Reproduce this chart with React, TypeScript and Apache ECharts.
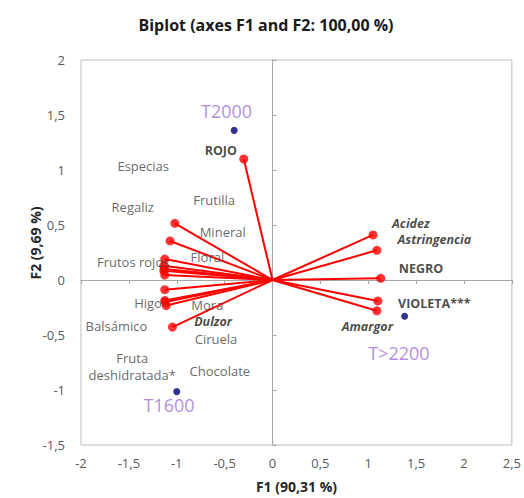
import React, { useEffect, useRef } from 'react';
import * as echarts from 'echarts';

// Variable vectors (F1, F2)
const vectorF1 = [-0.30, -1.02, -1.07, -1.125, -1.135, -1.13, -1.135, -1.125, -1.125, -1.12, -1.125, -1.11, -1.045, 1.05, 1.09, 1.13, 1.10, 1.09];
const vectorF2 = [1.10, 0.515, 0.355, 0.19, 0.13, 0.10, 0.085, 0.045, -0.088, -0.20, -0.187, -0.232, -0.428, 0.41, 0.27, 0.015, -0.19, -0.28];

// Observations
const obsNames = ['T2000', 'T1600', 'T>2200'];
const obsF1 = [-0.40, -1.00, 1.38];
const obsF2 = [1.36, -1.015, -0.33];

// Text labels (positions in axis units)
const labelTexts = ['T2000', 'ROJO', 'Especias', 'Regaliz', 'Frutilla', 'Mineral', 'Floral', 'Frutos rojos', 'Higo', 'Mora', 'Dulzor', 'Balsámico', 'Ciruela', 'Fruta\ndeshidratada*', 'Chocolate', 'T1600', 'Acidez', 'Astringencia', 'NEGRO', 'VIOLETA***', 'Amargor', 'T>2200'];
const labelF1 = [-0.48, -0.54, -1.35, -1.46, -0.61, -0.52, -0.68, -1.455, -1.30, -0.68, -0.62, -1.63, -0.59, -1.465, -0.55, -1.08, 1.445, 1.69, 1.55, 1.69, 0.99, 1.32];
const labelF2 = [1.54, 1.175, 1.04, 0.666, 0.726, 0.437, 0.205, 0.16, -0.21, -0.225, -0.375, -0.42, -0.54, -0.79, -0.825, -1.14, 0.51, 0.365, 0.105, -0.21, -0.42, -0.66];

const boldLabels = ['ROJO', 'NEGRO', 'VIOLETA***'];
const boldItalicLabels = ['Acidez', 'Astringencia', 'Dulzor', 'Amargor'];

const FONT = '"Open Sans", "Noto Sans", sans-serif';
const fmt = (v: number) => String(v).replace('.', ',');

function labelStyle(name: string) {
  if (obsNames.includes(name)) {
    return { color: '#a16fd2', fontSize: 18, fontWeight: 'normal', fontStyle: 'normal' };
  }
  if (boldLabels.includes(name)) {
    return { color: '#1a1a1a', fontSize: 12.5, fontWeight: 'bold', fontStyle: 'normal' };
  }
  if (boldItalicLabels.includes(name)) {
    return { color: '#1a1a1a', fontSize: 12.5, fontWeight: 'bold', fontStyle: 'italic' };
  }
  return { color: '#404040', fontSize: 13, fontWeight: 'normal', fontStyle: 'normal' };
}

export default function App() {
  const ref = useRef<HTMLDivElement>(null);
  useEffect(() => {
    if (!ref.current) return;
    const chart = echarts.init(ref.current, null, { renderer: 'svg' });
    const axisCommon = { type: 'value' as const, splitLine: { show: false } };
    chart.setOption({
      animation: false,
      backgroundColor: '#ffffff',
      textStyle: { fontFamily: FONT },
      grid: { left: 81, right: 11, top: 60, bottom: 51, show: true, borderColor: '#bfbfbf', borderWidth: 1 },
      xAxis: [
        {
          ...axisCommon, min: -2, max: 2.5, interval: 0.5, position: 'bottom',
          axisLine: { show: false, onZero: false }, axisTick: { show: false },
          axisLabel: { formatter: fmt, color: '#595959', fontSize: 13, margin: 11, fontFamily: FONT },
          name: 'F1 (90,31 %)', nameLocation: 'middle', nameGap: 34,
          nameTextStyle: { fontWeight: 'bold', fontSize: 14, color: '#262626', fontFamily: FONT },
        },
        {
          ...axisCommon, min: -2, max: 2.5, interval: 0.5, position: 'bottom',
          axisLine: { show: true, onZero: true, onZeroAxisIndex: 0, lineStyle: { color: '#a6a6a6', width: 1 } },
          axisTick: { show: true, length: 4, lineStyle: { color: '#a6a6a6' } },
          axisLabel: { show: false },
        },
      ],
      yAxis: [
        {
          ...axisCommon, min: -1.5, max: 2, interval: 0.5, position: 'left',
          axisLine: { show: false, onZero: false }, axisTick: { show: false },
          axisLabel: { formatter: fmt, color: '#595959', fontSize: 13, margin: 16, fontFamily: FONT },
        },
        {
          ...axisCommon, min: -1.5, max: 2, interval: 0.5, position: 'left',
          axisLine: { show: true, onZero: true, onZeroAxisIndex: 0, lineStyle: { color: '#a6a6a6', width: 1 } },
          axisTick: { show: true, inside: true, length: 4, lineStyle: { color: '#a6a6a6' } },
          axisLabel: { show: false },
        },
      ],
      graphic: [
        {
          type: 'text', x: 266, y: 25,
          style: { text: 'Biplot (axes F1 and F2: 100,00 %)', font: `bold 16px ${FONT}`, fill: '#1a1a1a', align: 'center', verticalAlign: 'middle' },
        },
        {
          type: 'text', x: 35, y: 243, rotation: Math.PI / 2,
          style: { text: 'F2 (9,69 %)', font: `bold 14px ${FONT}`, fill: '#262626', align: 'center', verticalAlign: 'middle' },
        },
      ],
      series: [
        {
          type: 'lines', coordinateSystem: 'cartesian2d', xAxisIndex: 0, yAxisIndex: 0, z: 3,
          lineStyle: { color: '#ff0000', width: 2, opacity: 1 },
          data: vectorF1.map((x, i) => ({ coords: [[0, 0], [x, vectorF2[i]]] })),
        },
        {
          type: 'scatter', xAxisIndex: 0, yAxisIndex: 0, z: 4, symbolSize: 9,
          itemStyle: { color: '#ff0000' },
          data: vectorF1.map((x, i) => [x, vectorF2[i]]),
        },
        {
          type: 'scatter', xAxisIndex: 0, yAxisIndex: 0, z: 4, symbolSize: 7,
          itemStyle: { color: '#000073' },
          data: obsF1.map((x, i) => [x, obsF2[i]]),
        },
        {
          type: 'scatter', xAxisIndex: 0, yAxisIndex: 0, z: 5, symbolSize: 1, silent: true,
          itemStyle: { color: 'rgba(0,0,0,0)' },
          data: labelTexts.map((t, i) => {
            const s = labelStyle(t);
            const multi = t.includes('\n');
            return {
              name: t,
              value: [labelF1[i], labelF2[i]],
              label: {
                show: true, position: 'inside', formatter: t, fontFamily: FONT,
                color: s.color, fontSize: s.fontSize, fontWeight: s.fontWeight, fontStyle: s.fontStyle,
                align: 'center', verticalAlign: 'middle', lineHeight: multi ? 17 : Math.round(s.fontSize),
              },
            };
          }),
        },
      ],
    });
    return () => chart.dispose();
  }, []);
  return <div ref={ref} style={{ position: 'absolute', left: 0, top: 0, width: 524, height: 498 }} />;
}
